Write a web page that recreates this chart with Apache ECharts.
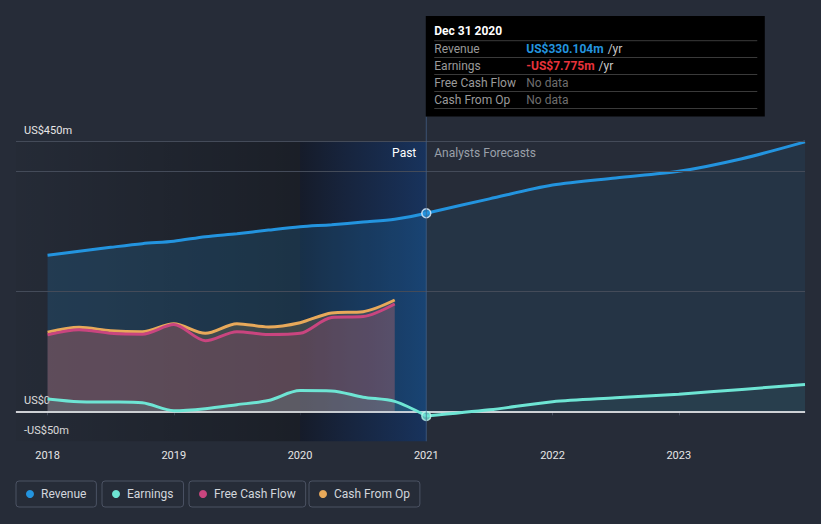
<!DOCTYPE html>
<html><head><meta charset="utf-8">
<script src="https://cdn.jsdelivr.net/npm/echarts@6/dist/echarts.min.js"></script>
<style>html,body{margin:0;padding:0;background:#262c38;}#c{width:821px;height:524px;}</style>
</head><body><div id="c"></div>
<script>
// ---- data ----
const pastX = [2018, 2018.25, 2018.5, 2018.75, 2019, 2019.25, 2019.5, 2019.75, 2020, 2020.25, 2020.5, 2020.75, 2021];
const revenuePast = [260, 266.7, 273.3, 279.4, 283.5, 291, 296, 302, 307.5, 311, 315.5, 320, 330.104];
const earningsPast = [20.5, 16, 15.5, 14.2, 1, 4.4, 11, 18, 34.5, 34, 23.5, 16.5, -7.775];
const cashX = [2018, 2018.25, 2018.5, 2018.75, 2019, 2019.25, 2019.5, 2019.75, 2020, 2020.25, 2020.5, 2020.75];
const cfoPast = [132, 140, 134.4, 132.7, 146, 130, 146, 140.5, 147.7, 164, 166, 185.5];
const fcfPast = [127.5, 136, 130, 128.5, 144.5, 117.7, 132.7, 128, 130, 156.5, 158, 178.8];
const forecastX = [2021, 2021.5, 2022, 2022.5, 2023, 2023.5, 2024];
const revenueFc = [330.104, 354, 377, 389, 400, 421, 449];
const earningsFc = [-7.775, 2.5, 16, 22.5, 28.5, 36.5, 44.5];
const yearTicks = [2018, 2019, 2020, 2021, 2022, 2023];
const yTickValues = [-50, 0, 450];
const yTickLabels = ['-US$50m', 'US$0', 'US$450m'];
const gridValues = [200, 400, 450];
const xMin = 2017.75, pastDivide = 2020, nowX = 2021, xMax = 2024;
const legendNames = ['Revenue', 'Earnings', 'Free Cash Flow', 'Cash From Op'];
const legendLeft = [16, 102, 189, 309];
const tooltipDate = 'Dec 31 2020';

// ---- styles ----
const FONT = 'Roboto, "Noto Sans", sans-serif';
const C_REV = '#2394df', C_EARN = '#6ee5d4', C_FCF = '#c9457f', C_CFO = '#e8a95a';
const zip = (xs, ys) => xs.map((x, i) => [x, ys[i]]);
const chart = echarts.init(document.getElementById('c'), null, {renderer: 'svg'});

function lineSeries(name, xs, ys, color, fill, z) {
  return {
    name, type: 'line', data: zip(xs, ys), smooth: 0.3, showSymbol: false, z,
    lineStyle: {color, width: 3}, itemStyle: {color},
    areaStyle: {color: fill, origin: 'auto'}, silent: true
  };
}

const legends = legendNames.map((n, i) => ({
  data: [n], left: legendLeft[i], top: 481, icon: 'circle', itemWidth: 12, itemHeight: 8,
  borderColor: '#4b5263', borderWidth: 1, borderRadius: 3, padding: [7, 10, 7, 10],
  selectedMode: false, textStyle: {color: '#d2d6dc', fontSize: 12, fontFamily: FONT}
}));

const option = {
  backgroundColor: '#262c38',
  animation: false,
  textStyle: {fontFamily: FONT},
  grid: {left: 16, right: 16, top: 141.3, bottom: 524 - 441.3},
  legend: legends,
  xAxis: {
    type: 'value', min: xMin, max: xMax,
    axisLine: {show: true, lineStyle: {color: '#4b5263', width: 1.5}},
    axisTick: {show: true, customValues: yearTicks, length: 4, lineStyle: {color: '#4b5263'}},
    axisLabel: {customValues: yearTicks, formatter: v => String(v), color: '#e6e6e6', fontSize: 11, margin: 9, fontFamily: FONT},
    splitLine: {show: false}
  },
  yAxis: {
    type: 'value', min: -50, max: 450,
    axisLine: {show: false}, axisTick: {show: false}, splitLine: {show: false},
    axisLabel: {
      customValues: yTickValues, inside: true, margin: 8, verticalAlign: 'bottom', padding: [0, 0, 5, 0],
      formatter: v => yTickLabels[yTickValues.indexOf(v)], color: '#e6e6e6', fontSize: 11, fontFamily: FONT,
      showMinLabel: true, showMaxLabel: true
    }
  },
  series: [
    {
      name: 'bg', type: 'line', data: [[xMin, 0]], showSymbol: false, lineStyle: {opacity: 0}, z: 0, silent: true,
      markArea: {
        silent: true,
        data: [
          [{xAxis: xMin, yAxis: 450, itemStyle: {color: new echarts.graphic.LinearGradient(0, 0, 1, 0, [
            {offset: 0, color: 'rgba(0,0,0,0.03)'}, {offset: 1, color: 'rgba(0,0,0,0.3)'}])}}, {xAxis: pastDivide, yAxis: -50}],
          [{xAxis: pastDivide, yAxis: 450, itemStyle: {color: new echarts.graphic.LinearGradient(0, 0, 1, 0, [
            {offset: 0, color: 'rgba(8,14,30,0.55)'}, {offset: 0.35, color: 'rgba(12,30,64,0.58)'}, {offset: 1, color: 'rgba(15,55,115,0.62)'}])}}, {xAxis: nowX, yAxis: -50}]
        ]
      },
      markLine: {
        silent: true, symbol: 'none', label: {show: false},
        data: gridValues.map(v => ({yAxis: v, lineStyle: {color: '#444b59', width: 1, type: 'solid'}}))
      }
    },
    lineSeries('Revenue', pastX, revenuePast, C_REV, 'rgba(35,148,223,0.25)', 2),
    lineSeries('Revenue', forecastX, revenueFc, C_REV, 'rgba(35,148,223,0.12)', 2),
    lineSeries('Cash From Op', cashX, cfoPast, C_CFO, 'rgba(232,169,90,0.25)', 3),
    lineSeries('Free Cash Flow', cashX, fcfPast, C_FCF, 'rgba(201,69,127,0.28)', 4),
    lineSeries('Earnings', pastX, earningsPast, C_EARN, 'rgba(110,229,212,0.18)', 5),
    lineSeries('Earnings', forecastX, earningsFc, C_EARN, 'rgba(110,229,212,0.08)', 5),
    {
      name: 'zero', type: 'line', data: [[xMin, 0]], showSymbol: false, lineStyle: {opacity: 0}, z: 6, silent: true,
      markLine: {silent: true, symbol: 'none', label: {show: false},
        data: [{yAxis: 0, lineStyle: {color: '#ffffff', width: 1.5, type: 'solid'}}]}
    },
    {
      name: 'Revenue', type: 'scatter', z: 8, silent: true, symbolSize: 9,
      data: [[nowX, revenuePast[revenuePast.length - 1]]],
      itemStyle: {color: C_REV, borderColor: '#e8f2fb', borderWidth: 1.5}
    },
    {
      name: 'Earnings', type: 'scatter', z: 8, silent: true, symbolSize: 9,
      data: [[nowX, earningsPast[earningsPast.length - 1]]],
      itemStyle: {color: C_EARN, borderColor: '#bff5ee', borderWidth: 1.5}
    }
  ]
};
chart.setOption(option);

// ---- tooltip-like box and past/forecast labels ----
const nowPx = chart.convertToPixel({gridIndex: 0}, [nowX, 0]);
const botPx = chart.convertToPixel({gridIndex: 0}, [nowX, -50])[1];
const px = nowPx[0];
const revNow = revenuePast[revenuePast.length - 1];
const earnNow = earningsPast[earningsPast.length - 1];
const fmt = v => (v < 0 ? '-' : '') + 'US$' + Math.abs(v).toFixed(3) + 'm';
const mctx = document.createElement('canvas').getContext('2d');
const measure = (t, f) => { mctx.font = f; return mctx.measureText(t).width; };
const F_B = 'bold 12px ' + FONT, F_N = '12px ' + FONT;
const rows = [
  ['Revenue', fmt(revNow), C_REV, true],
  ['Earnings', fmt(earnNow), '#e8333b', true],
  ['Free Cash Flow', 'No data', '#6e6e6e', false],
  ['Cash From Op', 'No data', '#6e6e6e', false]
];
const boxTop = 16, boxH = 100.5, boxW = 339;
const g = [
  {type: 'line', shape: {x1: px, y1: boxTop + boxH, x2: px, y2: botPx}, style: {stroke: 'rgba(70,100,140,0.7)', lineWidth: 1}, z: 20, silent: true},
  {type: 'rect', shape: {x: px - 0.5, y: boxTop, width: boxW, height: boxH}, style: {fill: '#000000'}, z: 21, silent: true},
  {type: 'text', x: px + 8, y: 31, style: {text: tooltipDate, fill: '#ffffff', font: F_B, verticalAlign: 'middle'}, z: 22, silent: true},
  {type: 'text', x: px - 10, y: 153, style: {text: 'Past', fill: '#ffffff', font: F_N, align: 'right', verticalAlign: 'middle'}, z: 22, silent: true},
  {type: 'text', x: px + 8, y: 153, style: {text: 'Analysts Forecasts', fill: '#9aa0a9', font: F_N, verticalAlign: 'middle'}, z: 22, silent: true}
];
const sepY = [40.7, 57.5, 74.5, 91.5, 108.5];
sepY.forEach(y => g.push({type: 'line', shape: {x1: px + 8, y1: y, x2: px + 331, y2: y}, style: {stroke: '#3a3a3a', lineWidth: 1}, z: 22, silent: true}));
rows.forEach((r, i) => {
  const y = 49 + i * 17;
  g.push({type: 'text', x: px + 8, y, style: {text: r[0], fill: '#9a9a9a', font: F_N, verticalAlign: 'middle'}, z: 22, silent: true});
  const vf = r[3] ? F_B : F_N;
  g.push({type: 'text', x: px + 100, y, style: {text: r[1], fill: r[2], font: vf, verticalAlign: 'middle'}, z: 22, silent: true});
  if (r[3]) {
    g.push({type: 'text', x: px + 100 + measure(r[1], vf) + 4, y, style: {text: '/yr', fill: '#c8c8c8', font: F_N, verticalAlign: 'middle'}, z: 22, silent: true});
  }
});
chart.setOption({graphic: g});
</script></body></html>
